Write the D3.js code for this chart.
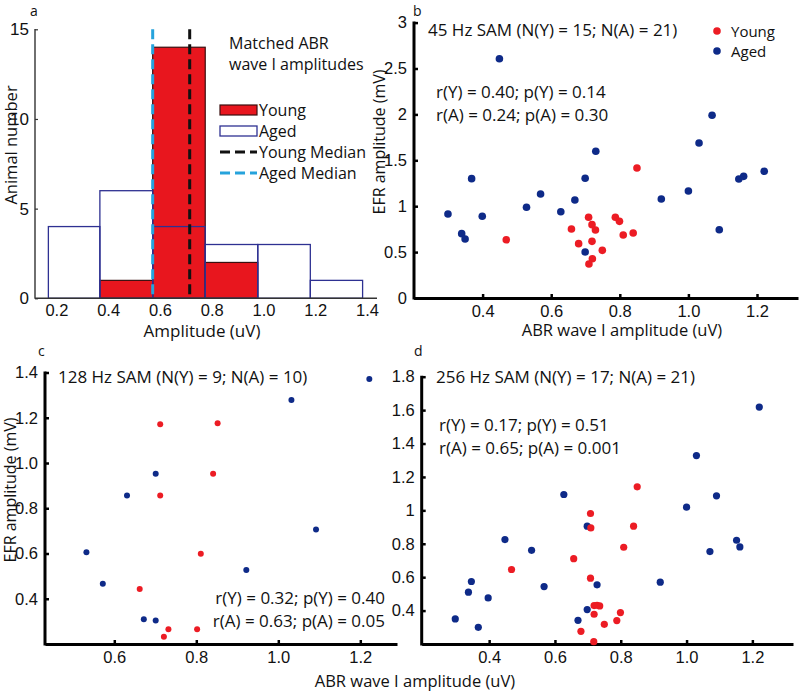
<!DOCTYPE html>
<html>
<head>
<meta charset="utf-8">
<script src="https://cdn.jsdelivr.net/npm/d3@7"></script>
<style>
  body { margin: 0; background: #fff; }
  svg { display: block; font-family: "Open Sans", "Noto Sans", sans-serif; }
  text { fill: #111; }
</style>
</head>
<body>
<svg id="chart" width="800" height="692"></svg>
<script>
// ---------- DATA ----------
// Panel a: histogram of matched ABR wave I amplitudes
const histBinEdges = [0.169, 0.368, 0.572, 0.775, 0.978, 1.181, 1.383];
const youngCounts = [0, 1, 14, 2, 0, 0];
const agedCounts = [4, 6, 4, 3, 3, 1];
const youngMedian = 0.715;
const agedMedian = 0.572;
const histXTicks = [0.2, 0.4, 0.6, 0.8, 1.0, 1.2, 1.4];
const histYTicks = [0, 5, 10, 15];
const histLegend = ["Young", "Aged", "Young Median", "Aged Median"];

// Panel b: 45 Hz SAM
const b_youngX = [0.850, 0.709, 0.787, 0.799, 0.719, 0.729, 0.659, 0.810, 0.839, 0.469, 0.719, 0.680, 0.749, 0.720, 0.710];
const b_youngY = [1.416, 0.879, 0.879, 0.835, 0.799, 0.741, 0.752, 0.686, 0.708, 0.635, 0.617, 0.592, 0.519, 0.428, 0.370];
const b_agedX = [0.449, 1.069, 1.031, 0.730, 1.221, 1.147, 1.161, 0.368, 0.699, 1.000, 0.569, 0.921, 0.669, 0.528, 0.628, 0.299, 0.399, 1.090, 0.339, 0.349, 0.699];
const b_agedY = [2.607, 1.990, 1.688, 1.598, 1.380, 1.296, 1.325, 1.300, 1.304, 1.166, 1.133, 1.078, 1.068, 0.988, 0.940, 0.915, 0.890, 0.744, 0.701, 0.643, 0.501];
const b_xTicks = [0.4, 0.6, 0.8, 1.0, 1.2];
const b_yTicks = [0, 0.5, 1, 1.5, 2, 2.5, 3];
const b_title = "45 Hz SAM (N(Y) = 15; N(A) = 21)";
const b_stats = ["r(Y) = 0.40; p(Y) = 0.14", "r(A) = 0.24; p(A) = 0.30"];

// Panel c: 128 Hz SAM
const c_youngX = [0.712, 0.852, 0.841, 0.712, 0.811, 0.662, 0.732, 0.802, 0.721];
const c_youngY = [1.171, 1.176, 0.953, 0.856, 0.599, 0.443, 0.265, 0.265, 0.232];
const c_agedX = [1.222, 1.032, 0.701, 0.631, 1.092, 0.532, 0.922, 0.572, 0.672, 0.701];
const c_agedY = [1.371, 1.279, 0.952, 0.856, 0.706, 0.605, 0.527, 0.466, 0.309, 0.304];
const c_xTicks = [0.6, 0.8, 1.0, 1.2];
const c_yTicks = [0.4, 0.6, 0.8, 1.0, 1.2, 1.4];
const c_title = "128 Hz SAM (N(Y) = 9; N(A) = 10)";
const c_stats = ["r(Y) = 0.32; p(Y) = 0.40", "r(A) = 0.63; p(A) = 0.05"];

// Panel d: 256 Hz SAM
const d_youngX = [0.850, 0.708, 0.839, 0.709, 0.809, 0.657, 0.468, 0.708, 0.719, 0.736, 0.728, 0.719, 0.799, 0.788, 0.750, 0.679, 0.718];
const d_youngY = [1.141, 0.981, 0.905, 0.895, 0.779, 0.711, 0.646, 0.594, 0.430, 0.428, 0.432, 0.378, 0.388, 0.340, 0.318, 0.276, 0.214];
const d_agedX = [1.221, 1.030, 1.091, 0.627, 1.000, 0.698, 1.152, 1.162, 0.448, 0.529, 1.071, 0.920, 0.346, 0.728, 0.567, 0.337, 0.397, 0.698, 0.297, 0.670, 0.367];
const d_agedY = [1.618, 1.328, 1.087, 1.095, 1.019, 0.905, 0.821, 0.781, 0.825, 0.761, 0.753, 0.570, 0.574, 0.554, 0.544, 0.510, 0.476, 0.406, 0.350, 0.342, 0.300];
const d_xTicks = [0.4, 0.6, 0.8, 1.0, 1.2];
const d_yTicks = [0.4, 0.6, 0.8, 1, 1.2, 1.4, 1.6, 1.8];
const d_title = "256 Hz SAM (N(Y) = 17; N(A) = 21)";
const d_stats = ["r(Y) = 0.17; p(Y) = 0.51", "r(A) = 0.65; p(A) = 0.001"];

const scatterLegend = ["Young", "Aged"];

// ---------- STYLE ----------
const RED = "#ec1c24";
const NAVY = "#0e2a88";
const BAR_RED = "#e8161e";
const BAR_NAVY = "#2e3192";
const CYAN = "#26a3dc";

const svg = d3.select("#chart");

// ---------- PANEL A ----------
(function () {
  const g = svg.append("g");
  const x = d3.scaleLinear().domain([0.2, 1.4]).range([56.4, 367]);
  const y = d3.scaleLinear().domain([0, 15]).range([298.3, 29.3]);
  const axisCol = "#333";

  const bins = youngCounts.map((c, i) => ({ x0: histBinEdges[i], x1: histBinEdges[i + 1], young: c, aged: agedCounts[i] }));

  g.selectAll("rect.young").data(bins.filter(d => d.young > 0)).join("rect")
    .attr("x", d => x(d.x0)).attr("width", d => x(d.x1) - x(d.x0))
    .attr("y", d => y(d.young)).attr("height", d => y(0) - y(d.young))
    .attr("fill", BAR_RED).attr("stroke", "#3a1010").attr("stroke-width", 1.2);

  g.selectAll("rect.aged").data(bins.filter(d => d.aged > 0)).join("rect")
    .attr("x", d => x(d.x0)).attr("width", d => x(d.x1) - x(d.x0))
    .attr("y", d => y(d.aged)).attr("height", d => y(0) - y(d.aged))
    .attr("fill", "none").attr("stroke", BAR_NAVY).attr("stroke-width", 1.3);

  g.append("line").attr("x1", x(agedMedian)).attr("x2", x(agedMedian))
    .attr("y1", y(15)).attr("y2", y(0))
    .attr("stroke", CYAN).attr("stroke-width", 3).attr("stroke-dasharray", "10,5");
  g.append("line").attr("x1", x(youngMedian)).attr("x2", x(youngMedian))
    .attr("y1", y(15)).attr("y2", y(0))
    .attr("stroke", "#111").attr("stroke-width", 3).attr("stroke-dasharray", "10,5");

  g.append("line").attr("x1", 35).attr("x2", 35).attr("y1", 29).attr("y2", y(0) + 0.5)
    .attr("stroke", axisCol).attr("stroke-width", 1.4);
  g.append("line").attr("x1", 35).attr("x2", 377).attr("y1", y(0)).attr("y2", y(0))
    .attr("stroke", axisCol).attr("stroke-width", 1.4);

  const ya = g.append("g").attr("transform", "translate(35,0)")
    .call(d3.axisLeft(y).tickValues(histYTicks).tickSize(-3).tickPadding(6).tickFormat(d3.format("d")));
  ya.select(".domain").remove();
  ya.selectAll("line").attr("stroke", axisCol).attr("stroke-width", 1.2);
  ya.selectAll("text").attr("font-size", 17).attr("fill", "#111").attr("font-family", null);

  const xa = g.append("g").attr("transform", `translate(0,${y(0)})`)
    .call(d3.axisBottom(x).tickValues(histXTicks).tickSize(0).tickPadding(6).tickFormat(d3.format(".1f")));
  xa.select(".domain").remove();
  xa.selectAll("text").attr("font-size", 16.5).attr("fill", "#111").attr("font-family", null);

  g.append("text").attr("x", 202).attr("y", 337).attr("text-anchor", "middle").attr("font-size", 17).text("Amplitude (uV)");
  g.append("text").attr("transform", "translate(17,145) rotate(-90)").attr("text-anchor", "middle").attr("font-size", 16.5).text("Animal number");
  g.append("text").attr("x", 30).attr("y", 15.5).attr("font-size", 14).text("a");

  g.append("text").attr("x", 229).attr("y", 49).attr("font-size", 16).text("Matched ABR");
  g.append("text").attr("x", 229).attr("y", 70).attr("font-size", 16).text("wave I amplitudes");

  const lx = 220, lw = 37, ly0 = 110, ldy = 21;
  histLegend.forEach((lab, i) => {
    const cy = ly0 + i * ldy;
    if (i === 0) {
      g.append("rect").attr("x", lx).attr("y", cy - 5).attr("width", lw).attr("height", 10)
        .attr("fill", BAR_RED).attr("stroke", "#3a1010").attr("stroke-width", 1.2);
    } else if (i === 1) {
      g.append("rect").attr("x", lx).attr("y", cy - 5).attr("width", lw).attr("height", 10)
        .attr("fill", "none").attr("stroke", BAR_NAVY).attr("stroke-width", 1.3);
    } else {
      g.append("line").attr("x1", lx).attr("x2", lx + lw).attr("y1", cy).attr("y2", cy)
        .attr("stroke", i === 2 ? "#111" : CYAN).attr("stroke-width", 3).attr("stroke-dasharray", "10,5");
    }
    g.append("text").attr("x", lx + lw + 2).attr("y", cy + 6).attr("font-size", 16).text(lab);
  });
})();

// ---------- SCATTER PANELS ----------
function scatter(cfg) {
  const g = svg.append("g");
  const x = d3.scaleLinear().domain(cfg.xDomain).range(cfg.xRange);
  const y = d3.scaleLinear().domain(cfg.yDomain).range(cfg.yRange);
  const sw = 3;

  const xa = g.append("g").attr("transform", `translate(0,${cfg.yRange[0]})`)
    .call(d3.axisBottom(x).tickValues(cfg.xTicks).tickSize(-4).tickSizeOuter(0).tickPadding(7).tickFormat(cfg.xFmt));
  xa.select(".domain").attr("stroke", "#000").attr("stroke-width", sw);
  xa.selectAll(".tick line").attr("stroke", "#000").attr("stroke-width", 2.5);
  xa.selectAll("text").attr("font-size", 16.5).attr("fill", "#111").attr("font-family", null);

  const ya = g.append("g").attr("transform", `translate(${cfg.xRange[0]},0)`)
    .call(d3.axisLeft(y).tickValues(cfg.yTicks).tickSize(-4).tickSizeOuter(0).tickPadding(7).tickFormat(cfg.yFmt));
  ya.select(".domain").attr("stroke", "#000").attr("stroke-width", sw)
    .attr("d", `M0,${cfg.yRange[0] + 1.5}V${cfg.yRange[1] - 1}`);
  ya.selectAll(".tick line").attr("stroke", "#000").attr("stroke-width", 2.5);
  ya.selectAll("text").attr("font-size", 16.5).attr("fill", "#111").attr("font-family", null);

  const aged = cfg.agedX.map((v, i) => [v, cfg.agedY[i]]);
  const young = cfg.youngX.map((v, i) => [v, cfg.youngY[i]]);
  g.selectAll("circle.aged").data(aged).join("circle")
    .attr("cx", d => x(d[0])).attr("cy", d => y(d[1])).attr("r", cfg.r).attr("fill", NAVY);
  g.selectAll("circle.young").data(young).join("circle")
    .attr("cx", d => x(d[0])).attr("cy", d => y(d[1])).attr("r", cfg.r).attr("fill", RED);

  g.append("text").attr("x", cfg.titlePos[0]).attr("y", cfg.titlePos[1]).attr("font-size", 17).text(cfg.title);
  cfg.stats.forEach((s, i) => {
    g.append("text").attr("x", cfg.statsPos[0]).attr("y", cfg.statsPos[1] + i * 22.5)
      .attr("text-anchor", cfg.statsAnchor).attr("font-size", 17).text(s);
  });
  g.append("text").attr("x", cfg.letterPos[0]).attr("y", cfg.letterPos[1]).attr("font-size", 14).text(cfg.letter);
  if (cfg.yLabelPos) {
    g.append("text").attr("transform", `translate(${cfg.yLabelPos[0]},${cfg.yLabelPos[1]}) rotate(-90)`)
      .attr("text-anchor", "middle").attr("font-size", 16).text("EFR amplitude (mV)");
  }
  if (cfg.xLabelPos) {
    g.append("text").attr("x", cfg.xLabelPos[0]).attr("y", cfg.xLabelPos[1])
      .attr("text-anchor", "middle").attr("font-size", 16.5).text("ABR wave I amplitude (uV)");
  }
  if (cfg.legend) {
    const [lx, ly] = cfg.legend;
    scatterLegend.forEach((lab, i) => {
      g.append("circle").attr("cx", lx).attr("cy", ly + i * 20).attr("r", cfg.r).attr("fill", i === 0 ? RED : NAVY);
      g.append("text").attr("x", lx + 14).attr("y", ly + i * 20 + 5.5).attr("font-size", 15).text(lab);
    });
  }
}

const f1 = d3.format(".1f");
const fG = d => String(d);

scatter({
  xDomain: [0.2, 1.3195], xRange: [414, 798],
  yDomain: [0, 3], yRange: [298, 22.6],
  xTicks: b_xTicks, yTicks: b_yTicks, xFmt: f1, yFmt: fG,
  youngX: b_youngX, youngY: b_youngY, agedX: b_agedX, agedY: b_agedY,
  r: 3.8, title: b_title, titlePos: [428, 36],
  stats: b_stats, statsPos: [436, 98], statsAnchor: "start",
  letter: "b", letterPos: [413, 15.5],
  yLabelPos: [385, 142], xLabelPos: [622, 336],
  legend: [717, 31]
});

scatter({
  xDomain: [0.431, 1.2895], xRange: [45, 397],
  yDomain: [0.2, 1.4], yRange: [644, 372.5],
  xTicks: c_xTicks, yTicks: c_yTicks, xFmt: f1, yFmt: f1,
  youngX: c_youngX, youngY: c_youngY, agedX: c_agedX, agedY: c_agedY,
  r: 3, title: c_title, titlePos: [58, 383],
  stats: c_stats, statsPos: [385, 604], statsAnchor: "end",
  letter: "c", letterPos: [38, 356],
  yLabelPos: [16, 490], xLabelPos: null
});

scatter({
  xDomain: [0.195, 1.3235], xRange: [421.7, 793],
  yDomain: [0.2, 1.8], yRange: [644, 376.7],
  xTicks: d_xTicks, yTicks: d_yTicks, xFmt: f1, yFmt: fG,
  youngX: d_youngX, youngY: d_youngY, agedX: d_agedX, agedY: d_agedY,
  r: 3.6, title: d_title, titlePos: [436, 383],
  stats: d_stats, statsPos: [439, 431], statsAnchor: "start",
  letter: "d", letterPos: [414, 356],
  yLabelPos: null, xLabelPos: [415, 687]
});
</script>
</body>
</html>
